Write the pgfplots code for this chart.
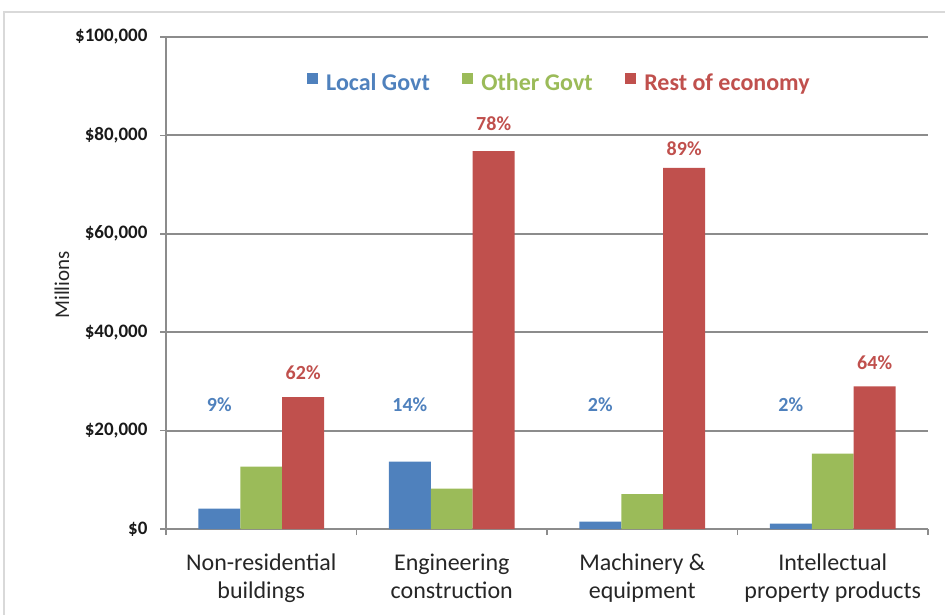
\documentclass[border=0pt]{standalone}
\usepackage{pgfplots}
\pgfplotsset{compat=1.18}
\usepackage{fontspec}
\setmainfont{Carlito}
\definecolor{cblue}{HTML}{4F81BD}
\definecolor{cgreen}{HTML}{9BBB59}
\definecolor{cred}{HTML}{C0504D}
\definecolor{gridc}{HTML}{8C8C8C}
\begin{document}
\begin{tikzpicture}[x=1pt,y=1pt]
\useasboundingbox (0,0) rectangle (945,614);
\draw[gray!30, line width=2pt] (3.5,-20) -- (3.5,602) -- (960,602);
\begin{axis}[
  at={(166pt,85pt)}, anchor=south west,
  scale only axis, width=762pt, height=492pt,
  xmin=-0.5, xmax=3.5, ymin=0, ymax=100000,
  scaled y ticks=false,
  axis lines=left,
  axis line style={gridc, line width=2pt, -},
  tick align=outside,
  major tick length=6pt,
  tick style={gridc, line width=1.5pt},
  ymajorgrids, grid style={gridc, line width=2pt},
  ytick={0,20000,40000,60000,80000,100000},
  yticklabels={{\$0},{\$20,000},{\$40,000},{\$60,000},{\$80,000},{\$100,000}},
  yticklabel style={font=\bfseries\fontsize{19}{19}\selectfont, text=black!90, xshift=-9pt},
  xtick={-0.5,0.5,1.5,2.5,3.5},
  xticklabels={},
  extra x ticks={0,1,2,3},
  extra x tick labels={{Non-residential\\buildings},{Engineering\\construction},{Machinery \&\\equipment},{Intellectual\\property products}},
  extra x tick style={major tick length=0pt, grid=none,
     xticklabel style={align=center, font=\fontsize{24}{28}\selectfont, text=black!85, yshift=-21pt}},
  ylabel={Millions},
  ylabel style={at={(axis description cs:-0.1365,0.496)}, anchor=center, font=\fontsize{21}{21}\selectfont, text=black!85},
  ybar, bar width=0.22,
  legend columns=3,
  legend style={at={(0.516,0.907)}, anchor=center, draw=none, fill=none,
     font=\bfseries\fontsize{24}{24}\selectfont,
     /tikz/every odd column/.append style={column sep=6pt},
     /tikz/every even column/.append style={column sep=30pt}},
  legend image code/.code={\fill[#1] (0pt,-1.5pt) rectangle (11.5pt,10pt);},
]
\addplot[fill=cblue, draw=none, bar shift=-0.22] coordinates {(0,4150) (1,13700) (2,1500) (3,1100)};
\addlegendentry{\textcolor{cblue}{Local Govt}}
\addplot[fill=cgreen, draw=none, bar shift=0] coordinates {(0,12700) (1,8200) (2,7100) (3,15300)};
\addlegendentry{\textcolor{cgreen}{Other Govt}}
\addplot[fill=cred, draw=none, bar shift=0.22] coordinates {(0,26800) (1,76800) (2,73400) (3,29000)};
\addlegendentry{\textcolor{cred}{Rest of economy}}
\begin{scope}[every node/.style={font=\bfseries\fontsize{20}{20}\selectfont}]
\node[text=cblue] at (axis cs:-0.22,25200) {9\%};
\node[text=cblue] at (axis cs:0.78,25200) {14\%};
\node[text=cblue] at (axis cs:1.78,25200) {2\%};
\node[text=cblue] at (axis cs:2.78,25200) {2\%};
\node[text=cred] at (axis cs:0.22,31700) {62\%};
\node[text=cred] at (axis cs:1.22,82300) {78\%};
\node[text=cred] at (axis cs:2.22,77200) {89\%};
\node[text=cred] at (axis cs:3.22,33900) {64\%};
\end{scope}
\end{axis}
\end{tikzpicture}
\end{document}
